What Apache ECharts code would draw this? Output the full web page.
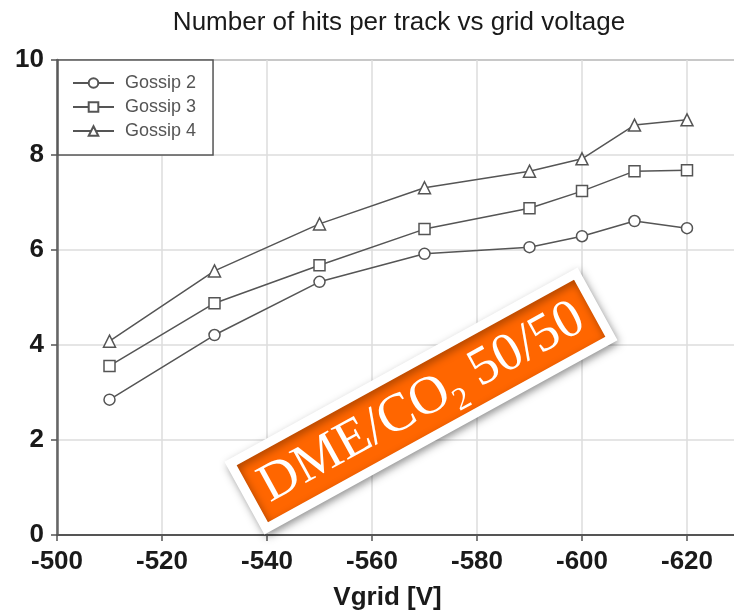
<!DOCTYPE html>
<html>
<head>
<meta charset="utf-8">
<script src="https://cdn.jsdelivr.net/npm/echarts@6/dist/echarts.min.js"></script>
<style>html,body{margin:0;padding:0;background:#fff}#c{width:734px;height:615px}</style>
</head>
<body>
<div id="c"></div>
<script>
var voltages = [-510, -530, -550, -570, -590, -600, -610, -620];
var gossip2 = [2.85, 4.21, 5.33, 5.92, 6.06, 6.29, 6.61, 6.46];
var gossip3 = [3.56, 4.88, 5.68, 6.44, 6.88, 7.24, 7.66, 7.68];
var gossip4 = [4.08, 5.56, 6.55, 7.31, 7.66, 7.92, 8.63, 8.74];
var seriesNames = ['Gossip 2', 'Gossip 3', 'Gossip 4'];
var seriesSymbols = ['circle', 'rect', 'triangle'];
var title = 'Number of hits per track vs grid voltage';
var xName = 'Vgrid [V]';

function pairs(vals) { return voltages.map(function (v, i) { return [v, vals[i]]; }); }
var all = [gossip2, gossip3, gossip4];

var chart = echarts.init(document.getElementById('c'));
chart.setOption({
  animation: false,
  backgroundColor: '#fff',
  title: {
    text: title, left: 394, top: 5, textAlign: 'center',
    textStyle: { fontFamily: 'Liberation Sans', fontSize: 26, fontWeight: 'normal', color: '#1a1a1a' }
  },
  grid: { left: 57, top: 60, right: -58, bottom: 80, outerBoundsMode: 'none', containLabel: false, show: true, borderColor: '#666', borderWidth: 1.5, backgroundColor: 'transparent' },
  legend: {
    left: 58, top: 60, orient: 'vertical',
    data: seriesNames,
    itemWidth: 41, itemHeight: 12, itemGap: 6,
    padding: [14, 17, 15, 14],
    backgroundColor: '#fff', borderColor: '#555', borderWidth: 1.5, borderRadius: 0,
    textStyle: { fontFamily: 'Liberation Sans', fontSize: 18, color: '#555', padding: [0, 0, 0, 6] }
  },
  xAxis: {
    type: 'value', inverse: true, min: -640, max: -500, interval: 20,
    name: xName, nameLocation: 'middle', nameGap: 50,
    nameTextStyle: { fontFamily: 'Liberation Sans', fontSize: 26, fontWeight: 'bold', color: '#1a1a1a', padding: [0, 74, 0, 0] },
    axisLine: { show: true, onZero: false, lineStyle: { color: '#555', width: 2 } },
    axisTick: { show: true, length: 6, lineStyle: { color: '#555', width: 1.5 } },
    axisLabel: { fontFamily: 'Liberation Sans', fontSize: 26, fontWeight: 'bold', color: '#1a1a1a', margin: 14 },
    splitLine: { show: true, lineStyle: { color: '#dcdcdc', width: 1.5 } }
  },
  yAxis: {
    type: 'value', min: 0, max: 10, interval: 2,
    axisLine: { show: true, lineStyle: { color: '#666', width: 2.5 } },
    axisTick: { show: true, length: 6, lineStyle: { color: '#555', width: 1.5 } },
    axisLabel: { fontFamily: 'Liberation Sans', fontSize: 26, fontWeight: 'bold', color: '#1a1a1a', margin: 13 },
    splitLine: { show: true, lineStyle: { color: '#dcdcdc', width: 1.5 } }
  },
  series: seriesNames.map(function (n, i) {
    return {
      name: n, type: 'line', data: pairs(all[i]),
      symbol: seriesSymbols[i], symbolSize: i === 2 ? 12 : 11,
      lineStyle: { color: '#555', width: 1.5 },
      itemStyle: { color: '#fff', borderColor: '#555', borderWidth: 1.5 },
      z: 3
    };
  }),
  graphic: [{
    type: 'group', x: 421, y: 401, rotation: 28.8 * Math.PI / 180, z: 100, zlevel: 1,
    children: [{
      type: 'rect', z: 100, zlevel: 1, shape: { x: -197, y: -37, width: 394, height: 74 },
      style: { fill: '#ff6600', stroke: '#fff', lineWidth: 9, shadowBlur: 8, shadowColor: 'rgba(0,0,0,0.35)', shadowOffsetX: 2, shadowOffsetY: 3 }
    }, {
      type: 'text', z: 101, zlevel: 1, x: 0, y: 2,
      style: {
        text: '{a|DME/CO}{s|2}{a| 50/50}', align: 'center', verticalAlign: 'middle',
        rich: {
          a: { fontFamily: 'Liberation Serif', fontSize: 54, fill: '#fff' },
          s: { fontFamily: 'Liberation Serif', fontSize: 32, fill: '#fff', padding: [34, 0, 0, 0] }
        }
      }
    }]
  }]
});
</script>
</body>
</html>
